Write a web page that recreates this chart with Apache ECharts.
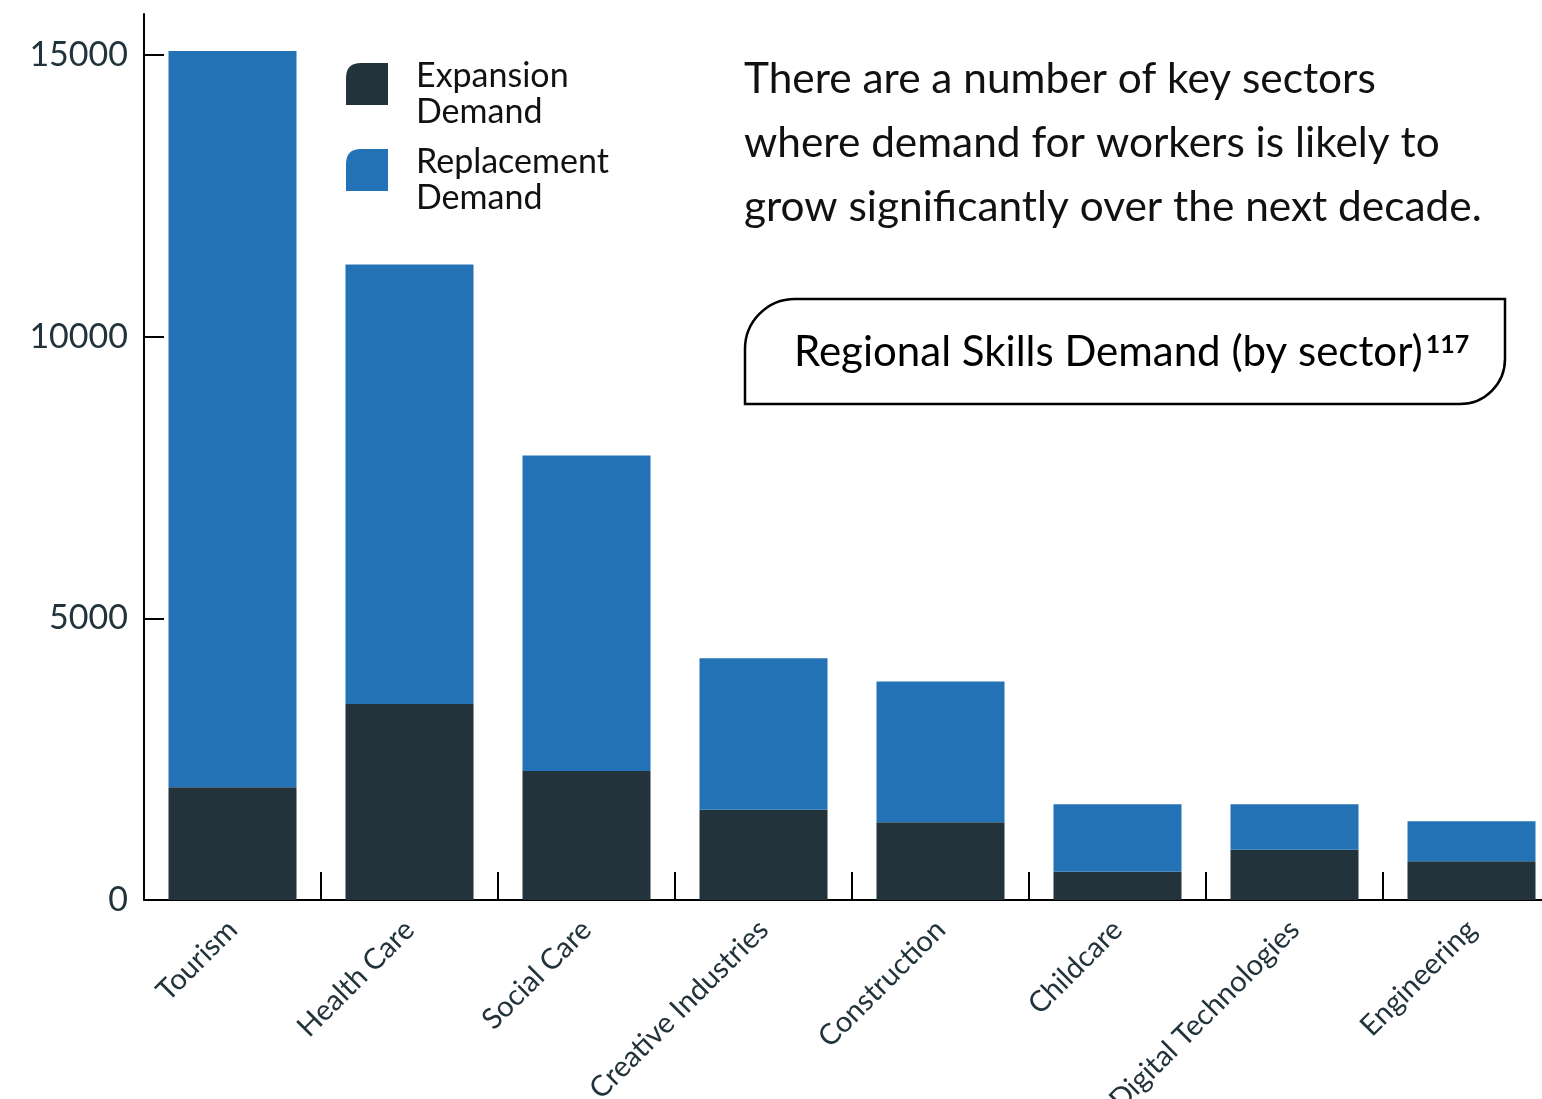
<!DOCTYPE html>
<html>
<head>
<meta charset="utf-8">
<script src="https://cdn.jsdelivr.net/npm/echarts@6/dist/echarts.min.js"></script>
<style>
    html, body { margin: 0; padding: 0; background: #fff; }
    #main { width: 1542px; height: 1099px; }
</style>
</head>
<body>
<div id="main"></div>
<script>
    // 数据
    var categories = ['Tourism', 'Health Care', 'Social Care', 'Creative Industries', 'Construction', 'Childcare', 'Digital Technologies', 'Engineering'];
    var expansionDemand = [2000, 3480, 2290, 1600, 1380, 500, 890, 690];
    var replacementDemand = [13070, 7800, 5600, 2690, 2500, 1200, 810, 710];
    var yTicks = [0, 5000, 10000, 15000];

    var dark = '#22333b';
    var blue = '#2372b5';
    // 图例图标：左上圆角方块，右边和下边留空，用来拉开文字
    var iconPath = 'path://M15,0 H42 V42 H0 V15 Q0,0 15,0 Z M65,62 L65,62.01';

    var myChart = echarts.init(document.getElementById('main'));
    var option = {
        animation: false,
        textStyle: { fontFamily: 'Lato' },
        legend: {
            orient: 'vertical',
            left: 346,
            top: 58,
            padding: 0,
            itemWidth: 65,
            itemHeight: 62,
            itemGap: 14,
            data: [
                { name: 'Expansion\nDemand', icon: iconPath },
                { name: 'Replacement\nDemand', icon: iconPath }
            ],
            textStyle: {
                fontFamily: 'Lato',
                fontSize: 34,
                lineHeight: 36,
                color: '#111'
            }
        },
        // grid 0 放柱子，grid 1 只画刻度和刻度文字（顶部不多出一个刻度）
        grid: [
            { left: 144, top: 14, bottom: 199, right: -18, outerBoundsMode: 'none' },
            { left: 144, top: 55, bottom: 199, right: -18, outerBoundsMode: 'none' }
        ],
        xAxis: [
            {
                type: 'category',
                gridIndex: 0,
                data: categories,
                axisLine: { show: true, lineStyle: { color: '#000', width: 2 } },
                axisTick: {
                    show: true,
                    inside: true,
                    length: 28,
                    lineStyle: { color: '#000', width: 2 }
                },
                axisLabel: {
                    rotate: 45,
                    interval: 0,
                    margin: 25,
                    fontFamily: 'Lato',
                    fontSize: 29,
                    color: dark
                }
            },
            { type: 'category', gridIndex: 1, data: categories, show: false }
        ],
        yAxis: [
            {
                type: 'value',
                gridIndex: 0,
                min: 0,
                max: 15728,
                splitLine: { show: false },
                axisLine: { show: true, lineStyle: { color: '#000', width: 2 } },
                axisTick: { show: false },
                axisLabel: { show: false }
            },
            {
                type: 'value',
                gridIndex: 1,
                min: 0,
                max: 15000,
                interval: 5000,
                splitLine: { show: false },
                axisLine: { show: false },
                axisTick: {
                    show: true,
                    inside: true,
                    length: 20,
                    lineStyle: { color: '#000', width: 2 }
                },
                axisLabel: {
                    margin: 16,
                    fontFamily: 'Lato',
                    fontSize: 34,
                    color: dark,
                    customValues: yTicks,
                    formatter: function (v) { return String(v); }
                }
            }
        ],
        graphic: [
            {
                type: 'text',
                left: 744,
                top: 47,
                style: {
                    text: 'There are a number of key sectors\nwhere demand for workers is likely to\ngrow significantly over the next decade.',
                    font: '42.4px Lato',
                    lineHeight: 64,
                    fill: '#111'
                }
            },
            {
                type: 'rect',
                shape: { x: 745, y: 299, width: 760, height: 105, r: [50, 0, 45, 0] },
                style: { fill: '#fff', stroke: '#000', lineWidth: 2.5 }
            },
            {
                type: 'text',
                left: 794,
                top: 327,
                style: {
                    text: '{a|Regional Skills Demand (by sector)}{s|117}',
                    rich: {
                        a: { fontFamily: 'Lato', fontSize: 42, lineHeight: 50, color: '#111' },
                        s: { fontFamily: 'Lato', fontSize: 25, fontWeight: 'bold', lineHeight: 50, verticalAlign: 'top', padding: [5, 0, 0, 3], color: '#111' }
                    }
                }
            }
        ],
        series: [
            {
                name: 'Expansion\nDemand',
                type: 'bar',
                stack: 'total',
                barWidth: 128,
                itemStyle: { color: dark },
                data: expansionDemand
            },
            {
                name: 'Replacement\nDemand',
                type: 'bar',
                stack: 'total',
                barWidth: 128,
                itemStyle: { color: blue },
                data: replacementDemand
            }
        ]
    };
    myChart.setOption(option);
</script>
</body>
</html>
